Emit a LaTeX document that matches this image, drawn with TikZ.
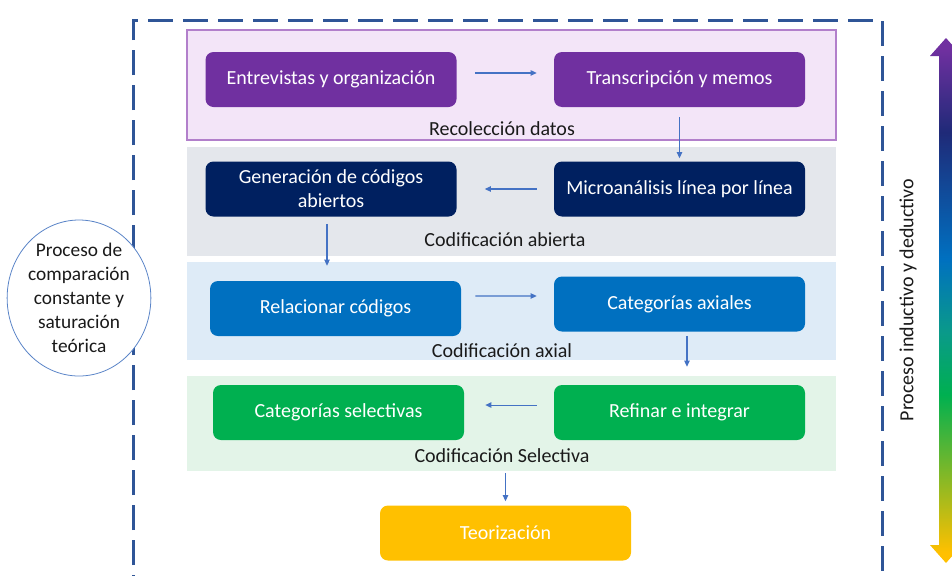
\documentclass[tikz,border=0pt]{standalone}
\usepackage{fontspec}
\setmainfont{Carlito}
\usetikzlibrary{arrows.meta,shapes.geometric}

\definecolor{boxpurple}{HTML}{7030A0}
\definecolor{boxnavy}{HTML}{002060}
\definecolor{boxblue}{HTML}{0070C0}
\definecolor{boxgreen}{HTML}{00B050}
\definecolor{boxgold}{HTML}{FFC000}
\definecolor{bandpurple}{HTML}{F3E5F8}
\definecolor{bandedge}{HTML}{B27FCB}
\definecolor{bandgray}{HTML}{E4E7EC}
\definecolor{bandblue}{HTML}{DEEBF7}
\definecolor{bandgreen}{HTML}{E3F4E8}
\definecolor{flowblue}{HTML}{4472C4}
\definecolor{frameblue}{HTML}{2F5597}
\definecolor{ovalblue}{HTML}{5B85C8}
\definecolor{gradnavy}{HTML}{1F2A78}
\definecolor{gradteal}{HTML}{0A9A8A}
\definecolor{labeltext}{HTML}{1A1A1A}

\pgfdeclareverticalshading{procshade}{100bp}{color(0bp)=(boxgold); color(26bp)=(boxgold);
  color(41bp)=(boxgreen); color(47bp)=(gradteal); color(54bp)=(boxblue);
  color(66bp)=(gradnavy); color(74bp)=(boxpurple); color(100bp)=(boxpurple)}

\begin{document}
\begin{tikzpicture}[x=0.75pt,y=-0.75pt,
    band/.style={rectangle, minimum width=486.75pt, inner sep=0pt},
    stepbox/.style={rectangle, rounded corners=6pt, minimum width=188.25pt,
      minimum height=41.25pt, inner sep=2pt, text=white, align=center,
      font=\fontsize{15}{18}\selectfont},
    bandlabel/.style={font=\fontsize{15}{18}\selectfont, text=labeltext},
    flow/.style={draw=flowblue, line width=0.8pt, -{Triangle[length=4.5pt,width=4pt]}}]

        \useasboundingbox (0,0) rectangle (952,575);
        \clip (0,0) rectangle (952,575);

        \draw[frameblue, line width=2.25pt, dash pattern=on 18.75pt off 7.5pt]
          (133,600) -- (133,20) -- (882,20) -- (882,600);

        \begin{scope}[every node/.style={band}]
          \node[fill=bandpurple, draw=bandedge, line width=0.8pt, minimum height=82.5pt] (recol) at (511.5,85) {};
          \node[fill=bandgray, minimum height=81.75pt]  (abierta) at (511.5,201.5) {};
          \node[fill=bandblue, minimum height=73.5pt]   (axial)   at (511.5,311)   {};
          \node[fill=bandgreen, minimum height=71.25pt] (selec)   at (511.5,423.5) {};
        \end{scope}

        \begin{scope}[every node/.style={bandlabel}]
          \node (recollab)   at (502,129) {Recolección datos};
          \node (abiertalab) at (505,240) {Codificación abierta};
          \node (axiallab)   at (502,351) {Codificación axial};
          \node (seleclab)   at (502,456) {Codificación Selectiva};
        \end{scope}

        \begin{scope}[every node/.style={stepbox}]
          \node[fill=boxpurple] (entrev) at (331,79.5)   {Entrevistas y organización};
          \node[fill=boxpurple] (transc) at (679.5,79.5) {Transcripción y memos};
          \node[fill=boxnavy]   (genera) at (331,189)    {Generación de códigos\\abiertos};
          \node[fill=boxnavy]   (micro)  at (679.5,189)  {Microanálisis línea por línea};
          \node[fill=boxblue]   (relac)  at (335.5,308.5) {Relacionar códigos};
          \node[fill=boxblue]   (cataxi) at (679.5,304)  {Categorías axiales};
          \node[fill=boxgreen]  (catsel) at (338.5,412.5) {Categorías selectivas};
          \node[fill=boxgreen]  (refin)  at (679.5,412.5) {Refinar e integrar};
          \node[fill=boxgold]   (teor)   at (505.5,533)  {Teorización};
        \end{scope}

        \begin{scope}[every edge/.style={flow}]
          \path ([yshift=4.9pt]entrev.east) edge[shorten <=13.5pt, shorten >=12.75pt] ([yshift=4.9pt]transc.west);
          \path (transc.south) edge[shorten <=7.5pt, shorten >=2.25pt] (micro.north);
          \path (micro.west) edge[shorten <=12.75pt, shorten >=21pt] (genera.east);
          \path ([xshift=-3pt]genera.south) edge[shorten <=5.25pt, shorten >=11.25pt] ([xshift=-3pt]genera.south |- relac.north);
          \path ([yshift=9.4pt]relac.east) edge[shorten <=10.5pt, shorten >=12.75pt] ([yshift=6pt]cataxi.west);
          \path ([xshift=5.6pt]cataxi.south) edge[shorten <=3pt, shorten >=13.5pt] ([xshift=5.6pt]cataxi.south |- refin.north);
          \path ([yshift=5.6pt]refin.west) edge[shorten <=12.75pt, shorten >=15.75pt] ([yshift=5.6pt]catsel.east);
          \path (teor.north |- selec.south) edge[shorten <=1.5pt, shorten >=3pt] (teor.north);
        \end{scope}

        \node[ellipse, draw=ovalblue, line width=0.6pt, fill=white, minimum width=97.5pt,
          minimum height=117pt, inner sep=0pt, align=center,
          font=\fontsize{14.5}{18}\selectfont, text=labeltext] (compar) at (79,298)
          {Proceso de\\comparación\\constante y\\saturación\\teórica};

        \shade[shading=procshade] (946,38) -- (962,56) -- (953,56) -- (953,545) -- (962,545)
          -- (946,563) -- (930,545) -- (939,545) -- (939,56) -- (930,56) -- cycle;

        \node[bandlabel, rotate=90] (inddeduc) at (908,300) {Proceso inductivo y deductivo};

      \end{tikzpicture}
\end{document}
